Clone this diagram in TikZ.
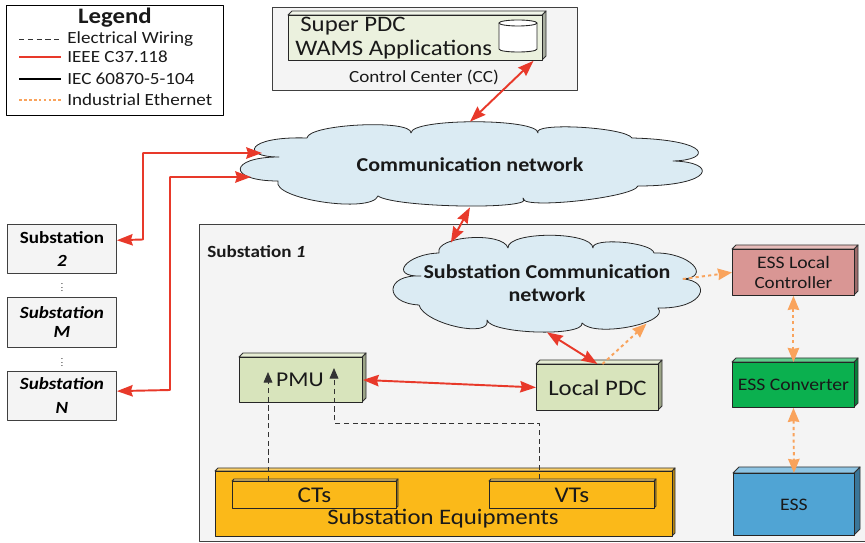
\documentclass[tikz,border=0pt]{standalone}
\usepackage{fontspec}
\setmainfont{Carlito}[FakeStretch=1.12]
\usetikzlibrary{arrows.meta,shapes.geometric}
\definecolor{ieeered}{HTML}{E8392A}
\definecolor{ethorange}{HTML}{F9A35C}
\definecolor{cloudblue}{HTML}{DBEBF3}
\definecolor{panelgray}{HTML}{F4F4F4}
\definecolor{pdcpale}{HTML}{EBF1DE}
\definecolor{pdcgreen}{HTML}{D8E4BC}
\definecolor{equipyellow}{HTML}{FBB919}
\definecolor{ctrlrose}{HTML}{D99694}
\definecolor{convgreen}{HTML}{0BB04F}
\definecolor{essblue}{HTML}{50A4D4}
\tikzset{
	panel/.style={draw=black!75, fill=panelgray, line width=0.5pt},
	label/.style={inner sep=0pt, text=black!90},
	biglabel/.style={label, font=\fontsize{12.6}{15}\selectfont},
	cloudline/.style={draw=black!85, fill=cloudblue, line width=0.45pt},
	cloudtext/.style={ellipse, inner sep=0pt, align=center, text=black!90, font=\fontsize{11.2}{13.1}\selectfont\bfseries},
	subbox/.style={panel, anchor=north west, align=center, inner sep=0pt, minimum width=109*0.02cm},
	ieee/.style={ieeered, line width=1.1pt, {Stealth[length=9pt,width=6.5pt,inset=1pt]}-{Stealth[length=9pt,width=6.5pt,inset=1pt]}},
	ethline/.style={ethorange, line width=1.1pt, dash pattern=on 1.8pt off 1.8pt},
	ethernet/.style={ethline, {Stealth[length=8pt,width=6.5pt,inset=0.5pt]}-{Stealth[length=8pt,width=6.5pt,inset=0.5pt]}},
	ethernetone/.style={ethline, -{Stealth[length=8pt,width=6.5pt,inset=0.5pt]}},
	wiring/.style={black!80, line width=0.45pt, dash pattern=on 3pt off 2pt},
	wiringarrow/.style={wiring, -{Stealth[length=6pt,width=5pt,inset=0pt]}},
}
% front face at left, top, width, height; then depth, colour, text
\newcommand{\solidbox}[8]{%
	\draw[black!80, line width=0.5pt, fill=#7!72!black] (#2+#4,#3+#5) -- ++(#6,-#6) -- ++(0,-#5) -- ++(-#6,#6) -- cycle;
	\draw[black!80, line width=0.5pt, fill=#7!65!white] (#2,#3) -- ++(#6,-#6) -- ++(#4,0) -- ++(-#6,#6) -- cycle;
	\node[draw=black!85, fill=#7, line width=0.5pt, anchor=north west, inner sep=0pt, align=center, text=black!90, minimum width=#4*0.02cm, minimum height=#5*0.02cm] (#1) at (#2,#3) {#8};
}
\begin{document}
\begin{tikzpicture}[x=0.02cm, y=-0.02cm, font=\fontsize{9.7}{11.4}\selectfont, line join=round, >=stealth]
	\useasboundingbox (0,0) rectangle (865,543);
	
	% legend
	\node[draw=black, fill=white, line width=0.5pt, anchor=north west, minimum width=217*0.02cm, minimum height=110*0.02cm] (legend) at (6,5) {};
	\node[label, font=\fontsize{12.6}{14}\selectfont\bfseries] (legendtitle) at (115,18) {Legend};
	\node[label, anchor=west] (legwiring) at (67,39) {Electrical Wiring};
	\node[label, anchor=west] (legieee) at (67,57) {IEEE C37.118};
	\node[label, anchor=west] (legiec) at (67,79) {IEC 60870-5-104};
	\node[label, anchor=west] (legeth) at (67,100) {Industrial Ethernet};
	\path
	(19,39) coordinate (wiringstart)
	(19,57) coordinate (ieeestart)
	(19,79) coordinate (iecstart)
	(19,100) coordinate (ethstart)
	;
	\draw[wiring] (wiringstart)--([xshift=-7*0.02cm]legwiring.west);
	\draw[ieeered, line width=1.1pt] (ieeestart)--([xshift=-6*0.02cm]legieee.west);
	\draw[black, line width=1.1pt] (iecstart)--([xshift=-6*0.02cm]legiec.west);
	\draw[ethorange, line width=0.7pt, dash pattern=on 1.6pt off 1.2pt] (ethstart)--([xshift=-6*0.02cm]legeth.west);
	
	% control center
	\node[panel, anchor=north west, minimum width=305*0.02cm, minimum height=83*0.02cm] (ccpanel) at (272,7) {};
	\solidbox{superpdc}{288}{15}{254}{45}{4}{pdcpale}{}
	\node[biglabel, anchor=west] (superlabel) at (300,26) {Super PDC};
	\node[biglabel, anchor=west] (wamslabel) at (295,50) {WAMS Applications};
	\draw[draw=black!85, fill=white, line width=0.5pt] (499,23)--(499,49) .. controls (499,53) and (537,53) .. (537,49)--(537,23);
	\draw[draw=black!85, fill=white, line width=0.5pt] (518,23) ellipse [x radius=19, y radius=3];
	\node[label] (cclabel) at (424,77) {Control Center (CC)};
	
	% substation panel
	\node[panel, anchor=north west, minimum width=670*0.02cm, minimum height=317*0.02cm] (subpanel) at (199,224) {};
	\node[label, anchor=west, font=\fontsize{9.7}{11.4}\selectfont\bfseries] (sublabel) at (207,252) {Substation \textit{1}};
	
	% clouds
	\draw[cloudline] (279,157) .. controls (240,157) and (246,136) .. (307,138)
		.. controls (308,124) and (412,119) .. (411,133)
		.. controls (411,118) and (538,118) .. (538,133)
		.. controls (531,122) and (625,127) .. (632,138)
		.. controls (712,140) and (712,160) .. (673,161)
		.. controls (718,162) and (715,186) .. (638,186)
		.. controls (633,198) and (518,210) .. (523,198)
		.. controls (540,210) and (395,208) .. (378,196)
		.. controls (371,214) and (271,199) .. (278,181)
		.. controls (227,181) and (228,157) .. cycle;
	\node[cloudtext, minimum width=459*0.02cm, minimum height=85*0.02cm] (netcloud) at (470,164.5) {Communication network};
	\draw[cloudline] (421,276) .. controls (388,277) and (406,254) .. (439,253)
		.. controls (434,236) and (503,231) .. (508,248)
		.. controls (507,231) and (592,231) .. (593,248)
		.. controls (591,237) and (652,242) .. (654,253)
		.. controls (690,252) and (712,277) .. (683,279)
		.. controls (712,281) and (706,309) .. (658,308)
		.. controls (671,323) and (595,338) .. (582,323)
		.. controls (585,337) and (490,334) .. (487,320)
		.. controls (492,339) and (424,324) .. (419,305)
		.. controls (383,303) and (385,274) .. cycle;
	\node[cloudtext, minimum width=307*0.02cm, minimum height=97*0.02cm] (subcloud) at (547,283.5) {Substation Communication\\network};
	
	% other substations
	\node[subbox, font=\fontsize{9.7}{13}\selectfont\bfseries, minimum height=49*0.02cm] (subtwo) at (7,224) {Substation\\\textit{2}};
	\node[subbox, font=\fontsize{9.7}{10.8}\selectfont\bfseries\itshape, minimum height=50*0.02cm] (subm) at (7,297) {Substation\\M};
	\node[subbox, font=\fontsize{9.7}{13.6}\selectfont\bfseries\itshape, minimum height=49*0.02cm] (subn) at (7,371) {Substation\\N};
	\node[label, scale=0.5] (dotsa) at (62,285) {$\vdots$};
	\node[label, scale=0.5] (dotsb) at (62,360) {$\vdots$};
	
	% devices
	\solidbox{pmu}{239}{357}{123}{45}{4}{pdcgreen}{}
	\node[label, font=\fontsize{12}{14}\selectfont] (pmulabel) at (300,380) {PMU};
	\solidbox{localpdc}{536}{364}{122}{46}{4}{pdcgreen}{\fontsize{12.6}{15}\selectfont Local PDC}
	\solidbox{equipments}{215}{471}{457}{65}{3}{equipyellow}{}
	\solidbox{cts}{232}{481}{164}{27}{2}{equipyellow}{\fontsize{12.8}{15}\selectfont CTs}
	\solidbox{vts}{489}{481}{165}{27}{2}{equipyellow}{\fontsize{12.8}{15}\selectfont VTs}
	\node[biglabel] (equiplabel) at (443,519) {Substation Equipments};
	\solidbox{esslocal}{732}{249}{122}{46}{4}{ctrlrose}{\fontsize{10}{11.4}\selectfont ESS Local\\Controller}
	\solidbox{essconv}{732}{362}{122}{45}{4}{convgreen}{\fontsize{10}{12}\selectfont ESS Converter}
	\solidbox{ess}{733}{473}{121}{62}{6}{essblue}{\fontsize{10}{12}\selectfont ESS}
	
	% free ends of the connectors
	\path
	(143,239.5) coordinate (busa)
	(170,390) coordinate (busb)
	(262,153) coordinate (netporta)
	(251,177) coordinate (netportb)
	(268,372) coordinate (ctend)
	(268,481) coordinate (ctstart)
	(334,368) coordinate (vtend)
	(539,479) coordinate (vtstart)
	(539,423) coordinate (vtbend)
	(334,423) coordinate (vtturn)
	(683,279) coordinate (ethport)
	;
	
	% communication links
	\draw[ieee] (superpdc.-11.6)--(netcloud.north);
	\draw[ieee] (netcloud.south)--(subcloud.157);
	\draw[ieee] (netporta)-|(busa)--(subtwo.9.4);
	\draw[ieee] (netportb)-|(busb)--(subn.5.8);
	\draw[ieee] (subcloud.south)--(localpdc.north);
	\draw[ieee] (pmu.east)--(localpdc.west);
	\draw[ethernetone] (localpdc.78)--(subcloud.-22);
	\draw[ethernetone] (ethport)--(esslocal.west);
	\draw[ethernet] (esslocal.south)--(essconv.north);
	\draw[ethernet] (essconv.south)--(ess.north);
	
	% wiring
	\draw[wiringarrow] (ctstart)--(ctend);
	\draw[wiringarrow] (vtstart)--(vtbend)--(vtturn)--(vtend);
\end{tikzpicture}
\end{document}
